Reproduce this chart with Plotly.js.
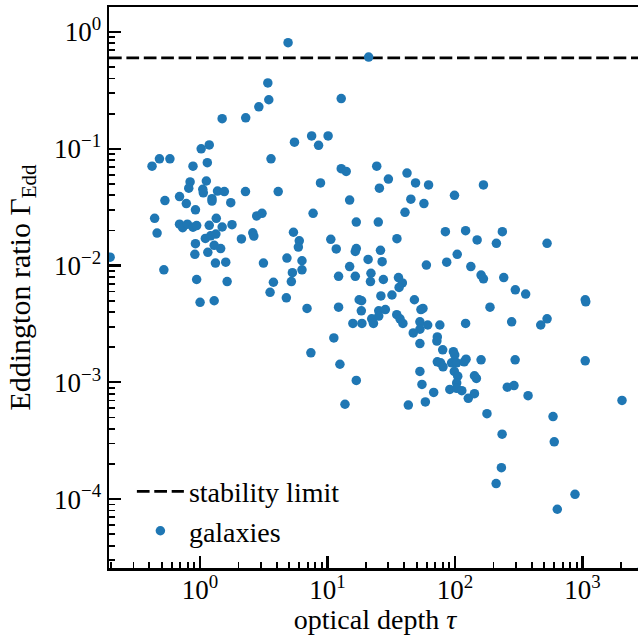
<!DOCTYPE html>
<html>
<head>
<meta charset="utf-8">
<script src="https://cdn.plot.ly/plotly-3.0.1.min.js"></script>
<style>
html,body{margin:0;padding:0;overflow:hidden;background:#fff;}
#chart{width:646px;height:635px;}
</style>
</head>
<body>
<div id="chart"></div>
<script>
// optical depth tau of each galaxy
const tau = [4.9, 21, 3.4, 3.46, 2.89, 1.49, 2.28, 12.8, 5.5, 7.5, 10.1, 8.5, 1.02, 1.18, 0.48, 0.58, 0.42, 0.88, 1.14, 3.6,
  12.8, 14, 0.835, 1.12, 0.815, 1.05, 1.06, 1.37, 1.55, 2.27, 4.1, 8.8, 0.69, 0.53, 0.78, 1.24, 1.24, 1.74, 0.92, 14.9,
  7.7, 0.44, 1.34, 2.78, 3.06, 16.8, 24.3, 30, 25.5, 42, 49, 62, 45, 57, 99, 167, 40.5, 25, 0.46, 0.69,
  0.73, 0.795, 0.88, 0.94, 1.18, 1.49, 1.78, 1.10, 1.21, 1.33, 0.92, 1.29, 1.45, 0.91, 1.15, 1.32, 1.59, 0.52, 0.94, 1.63,
  1.0, 1.29, 2.11, 2.59, 2.64, 3.14, 3.76, 3.54, 5.4, 6.0, 5.9, 4.8, 6.3, 5.3, 6.3, 5.2, 4.75, 6.9, 10.6, 11.7,
  16.8, 16.5, 14.9, 12.2, 16.5, 12.2, 17.7, 18.5, 18.4, 15.8, 18.6, 20.8, 21.9, 21.7, 22.2, 11.2, 7.4, 12.5, 16.8, 13.7,
  0.197, 35, 26, 26.8, 27.4, 36, 38.6, 36.4, 32, 26.2, 25.2, 28.4, 25.2, 22.9, 34.9, 37, 39, 48, 56, 54,
  53, 53, 47, 61, 76, 53, 72.6, 72, 80, 97, 99.5, 72.6, 77, 80.5, 94, 103, 118, 122, 98.7, 105,
  103, 91, 103, 113, 142, 147, 160, 127, 142, 53, 55, 68, 58.5, 43, 84, 121, 149, 211, 235, 527,
  104, 86, 59.6, 133, 160, 167, 241, 297, 358, 188, 121, 278, 527, 470, 1050, 1060, 296, 1050, 257, 290,
  374, 2040, 178, 587, 234, 600, 231, 210, 873, 634, 2880];

// Eddington ratio Gamma_Edd of each galaxy
const gammaEdd = [0.81, 0.61, 0.366, 0.263, 0.229, 0.181, 0.184, 0.269, 0.114, 0.129, 0.129, 0.107, 0.100, 0.108, 0.082, 0.082, 0.071, 0.071, 0.076, 0.082,
  0.0675, 0.064, 0.052, 0.053, 0.046, 0.045, 0.042, 0.0435, 0.043, 0.043, 0.043, 0.051, 0.039, 0.036, 0.034, 0.0374, 0.0357, 0.0346, 0.030, 0.0364,
  0.028, 0.0254, 0.0254, 0.0266, 0.028, 0.0236, 0.071, 0.055, 0.046, 0.062, 0.051, 0.049, 0.037, 0.034, 0.040, 0.049, 0.0286, 0.0236, 0.019, 0.0226,
  0.0211, 0.0226, 0.0213, 0.022, 0.0221, 0.0214, 0.0224, 0.0171, 0.018, 0.0186, 0.0154, 0.0149, 0.014, 0.0125, 0.013, 0.0105, 0.0107, 0.0092, 0.0076, 0.0073,
  0.00485, 0.0050, 0.0169, 0.0191, 0.0179, 0.0105, 0.0072, 0.0059, 0.0193, 0.0163, 0.0144, 0.0116, 0.011, 0.0087, 0.0092, 0.0073, 0.0053, 0.0043, 0.0168, 0.0139,
  0.014, 0.0132, 0.0098, 0.0081, 0.0081, 0.0044, 0.0051, 0.0050, 0.0041, 0.0032, 0.0032, 0.0113, 0.0086, 0.0073, 0.0035, 0.0024, 0.00179, 0.00143, 0.00104, 0.00065,
  0.0118, 0.017, 0.0135, 0.0108, 0.0076, 0.0079, 0.0071, 0.0065, 0.0056, 0.0055, 0.0041, 0.0042, 0.0037, 0.0032, 0.0038, 0.0035, 0.0032, 0.0051, 0.0043, 0.0042,
  0.0033, 0.00285, 0.00265, 0.0031, 0.0031, 0.00215, 0.00245, 0.00226, 0.0019, 0.00183, 0.00172, 0.0015, 0.00147, 0.00136, 0.00147, 0.00147, 0.0015, 0.00158, 0.00124, 0.00113,
  0.00099, 0.00087, 0.00089, 0.00085, 0.00114, 0.00108, 0.00156, 0.00073, 0.0008, 0.00124, 0.00096, 0.00082, 0.00068, 0.00064, 0.0195, 0.0199, 0.0166, 0.0155, 0.0195, 0.0155,
  0.0125, 0.0107, 0.0101, 0.0098, 0.0083, 0.0077, 0.0079, 0.0062, 0.0057, 0.0044, 0.0032, 0.0033, 0.0035, 0.0031, 0.0051, 0.0049, 0.00156, 0.00153, 0.00091, 0.00094,
  0.00077, 0.0007, 0.00054, 0.00051, 0.00036, 0.00031, 0.000186, 0.000136, 0.00011, 0.000082, 0.0000243];

const stabilityLimit = 0.6;
const xLimits = [0.193, 2875];
const yLimits = [2.575e-5, 1.637];

const xTickVals = [1, 10, 100, 1000];
const xTickText = ['10<sup>0</sup>', '10<sup>1</sup>', '10<sup>2</sup>', '10<sup>3</sup>'];
const yTickVals = [1e-4, 1e-3, 1e-2, 1e-1, 1];
const yTickText = ['10<sup>\u22124</sup>', '10<sup>\u22123</sup>', '10<sup>\u22122</sup>', '10<sup>\u22121</sup>', '10<sup>0</sup>'];

const FONT = 'Liberation Serif';

const traces = [
  {
    x: xLimits, y: [stabilityLimit, stabilityLimit],
    mode: 'lines', name: 'stability limit',
    line: {color: '#000', width: 2.6, dash: '12.7px,4.7px'},
    hoverinfo: 'skip'
  },
  {
    x: tau, y: gammaEdd,
    mode: 'markers', type: 'scatter', name: 'galaxies',
    marker: {color: '#1f77b4', size: 9.5, line: {width: 0}}
  }
];

function axisCommon() {
  return {
    type: 'log',
    tickmode: 'array',
    ticks: 'inside', ticklen: 12, tickwidth: 2.2, tickcolor: '#000',
    showline: true, linewidth: 2.5, linecolor: '#000', mirror: true,
    showgrid: false, zeroline: false,
    tickfont: {family: FONT, size: 27, color: '#000'},
    minor: {ticks: 'inside', ticklen: 6, tickwidth: 1.8, tickcolor: '#000', dtick: 'D1', showgrid: false}
  };
}

const xaxis = Object.assign(axisCommon(), {
  range: [Math.log10(xLimits[0]), Math.log10(xLimits[1])],
  tickvals: xTickVals, ticktext: xTickText,
  ticklabelstandoff: -4,
  title: {text: 'optical depth <i>\u03c4</i>', font: {family: FONT, size: 28, color: '#000'}, standoff: 4}
});
const yaxis = Object.assign(axisCommon(), {
  range: [Math.log10(yLimits[0]), Math.log10(yLimits[1])],
  tickvals: yTickVals, ticktext: yTickText,
  title: {text: 'Eddington ratio \u0393<sub>Edd</sub>', font: {family: FONT, size: 30, color: '#000'}, standoff: 15}
});

const layout = {
  width: 646, height: 635,
  margin: {l: 109, r: 5, t: 7, b: 67},
  paper_bgcolor: '#fff', plot_bgcolor: '#fff',
  font: {family: FONT, size: 27, color: '#000'},
  xaxis: xaxis, yaxis: yaxis,
  showlegend: true,
  legend: {
    x: 0.043, y: 0.022, xanchor: 'left', yanchor: 'bottom',
    bgcolor: 'rgba(0,0,0,0)', borderwidth: 0,
    font: {family: FONT, size: 28, color: '#000'},
    itemwidth: 47, tracegroupgap: 0
  }
};

Plotly.newPlot('chart', traces, layout, {displayModeBar: false, staticPlot: true});
</script>
</body>
</html>
